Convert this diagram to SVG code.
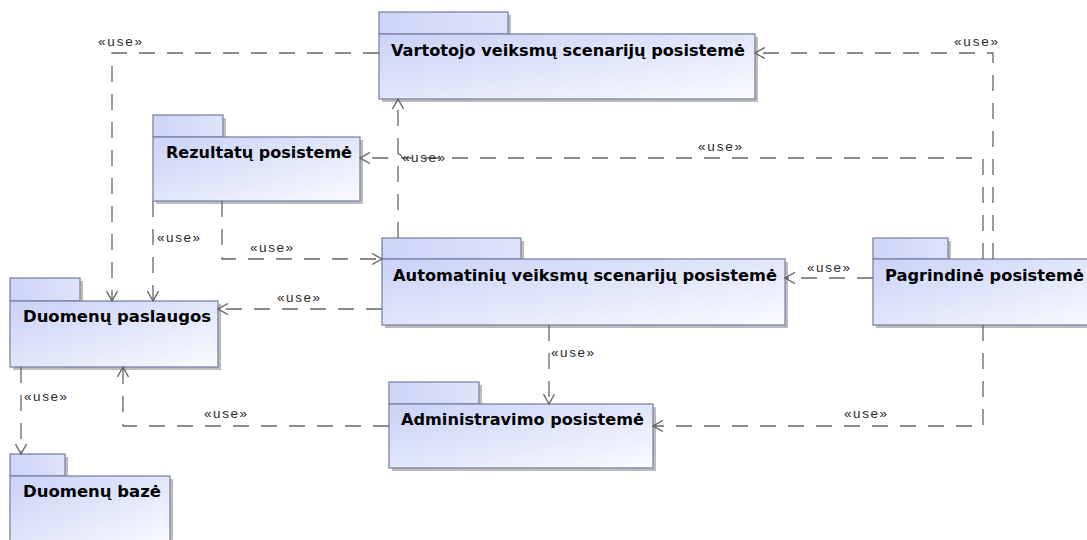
<svg xmlns="http://www.w3.org/2000/svg" width="1087" height="540" viewBox="0 0 1087 540">
  <defs>
    <linearGradient id="pkgFill" x1="0" y1="0" x2="1" y2="1">
      <stop offset="0" stop-color="#c9d2f7"/>
      <stop offset="0.55" stop-color="#e3e8fb"/>
      <stop offset="1" stop-color="#fbfcff"/>
    </linearGradient>
    <linearGradient id="tabFill" x1="0" y1="0" x2="1" y2="0">
      <stop offset="0" stop-color="#cdd5f7"/>
      <stop offset="1" stop-color="#dde3fa"/>
    </linearGradient>
    <marker id="open" viewBox="0 0 12 12" refX="11" refY="6" markerWidth="12" markerHeight="12" markerUnits="userSpaceOnUse" orient="auto">
      <path d="M1,0.5 L11,6 L1,11.5" fill="none" stroke="#606060" stroke-width="1.3" stroke-dasharray="none"/>
    </marker>
  </defs>
  <style>
    .shadow { fill: #bcbcbc; }
    .tab { fill: url(#tabFill); stroke: #7b84a6; stroke-width: 1.3; }
    .body { fill: url(#pkgFill); stroke: #7b84a6; stroke-width: 1.3; }
    .name { font-family: "DejaVu Sans", "Liberation Sans", sans-serif; font-weight: bold; font-size: 16.5px; fill: #000; }
    .dep { fill: none; stroke: #666; stroke-width: 1.3; stroke-dasharray: 16 12; marker-end: url(#open); }
    .lbl { font-family: "Liberation Sans", Arial, sans-serif; font-size: 13.5px; fill: #2a2a2a; }
  </style>

  <rect width="1087" height="540" fill="#fff"/>

  <!-- packages -->
  <g id="vartotojo">
    <rect class="shadow" x="382" y="15" width="129" height="22"/>
    <rect class="shadow" x="382" y="37" width="376" height="65"/>
    <rect class="tab" x="379" y="12" width="129" height="22"/>
    <rect class="body" x="379" y="34" width="376" height="65"/>
    <text class="name" x="391" y="56" textLength="354" lengthAdjust="spacingAndGlyphs">Vartotojo veiksmų scenarijų posistemė</text>
  </g>

  <g id="rezultatu">
    <rect class="shadow" x="156" y="118" width="70" height="22"/>
    <rect class="shadow" x="156" y="140" width="207" height="64"/>
    <rect class="tab" x="153" y="115" width="70" height="22"/>
    <rect class="body" x="153" y="137" width="207" height="64"/>
    <text class="name" x="166" y="158" textLength="186" lengthAdjust="spacingAndGlyphs">Rezultatų posistemė</text>
  </g>

  <g id="duomenu-paslaugos">
    <rect class="shadow" x="13" y="281" width="70" height="23"/>
    <rect class="shadow" x="13" y="304" width="208" height="66"/>
    <rect class="tab" x="10" y="278" width="70" height="23"/>
    <rect class="body" x="10" y="301" width="208" height="66"/>
    <text class="name" x="23" y="322" textLength="188" lengthAdjust="spacingAndGlyphs">Duomenų paslaugos</text>
  </g>

  <g id="automatiniu">
    <rect class="shadow" x="385" y="241" width="139" height="21"/>
    <rect class="shadow" x="385" y="262" width="403" height="66"/>
    <rect class="tab" x="382" y="238" width="139" height="21"/>
    <rect class="body" x="382" y="259" width="403" height="66"/>
    <text class="name" x="393" y="281" textLength="384" lengthAdjust="spacingAndGlyphs">Automatinių veiksmų scenarijų posistemė</text>
  </g>

  <g id="pagrindine">
    <rect class="shadow" x="876" y="241" width="75" height="21"/>
    <rect class="shadow" x="876" y="262" width="230" height="66"/>
    <rect class="tab" x="873" y="238" width="75" height="21"/>
    <rect class="body" x="873" y="259" width="230" height="66"/>
    <text class="name" x="885" y="281" textLength="199" lengthAdjust="spacingAndGlyphs">Pagrindinė posistemė</text>
  </g>

  <g id="administravimo">
    <rect class="shadow" x="392" y="385" width="90" height="22"/>
    <rect class="shadow" x="392" y="407" width="264" height="64"/>
    <rect class="tab" x="389" y="382" width="90" height="22"/>
    <rect class="body" x="389" y="404" width="264" height="64"/>
    <text class="name" x="401" y="425" textLength="243" lengthAdjust="spacingAndGlyphs">Administravimo posistemė</text>
  </g>

  <g id="duomenu-baze">
    <rect class="shadow" x="13" y="457" width="55" height="22"/>
    <rect class="shadow" x="13" y="479" width="160" height="70"/>
    <rect class="tab" x="10" y="454" width="55" height="22"/>
    <rect class="body" x="10" y="476" width="160" height="70"/>
    <text class="name" x="23" y="497" textLength="138" lengthAdjust="spacingAndGlyphs">Duomenų bazė</text>
  </g>

  <!-- «use» dependencies -->
  <g id="connectors">
    <path class="dep" d="M379,53 H112 V301"/>
    <text class="lbl" x="98" y="46" textLength="44">«use»</text>

    <path class="dep" d="M993,259 V53 H755"/>
    <text class="lbl" x="954" y="46" textLength="44">«use»</text>

    <path class="dep" d="M983,259 V158 H402 A4,4 0 0 0 394,158 H360"/>
    <text class="lbl" x="698" y="151" textLength="44">«use»</text>

    <path class="dep" d="M398,238 V99"/>
    <text class="lbl" x="402" y="162" textLength="43">«use»</text>

    <path class="dep" d="M153,201 V301"/>
    <text class="lbl" x="157" y="242" textLength="43">«use»</text>

    <path class="dep" d="M222,201 V259 H382"/>
    <text class="lbl" x="250" y="252" textLength="43">«use»</text>

    <path class="dep" d="M382,309 H218"/>
    <text class="lbl" x="277" y="302" textLength="43">«use»</text>

    <path class="dep" d="M873,278 H785"/>
    <text class="lbl" x="807" y="272" textLength="43">«use»</text>

    <path class="dep" d="M549,325 V404"/>
    <text class="lbl" x="551" y="357" textLength="43">«use»</text>

    <path class="dep" d="M983,325 V426 H653"/>
    <text class="lbl" x="844" y="418" textLength="43">«use»</text>

    <path class="dep" d="M389,426 H123 V367"/>
    <text class="lbl" x="204" y="418" textLength="43">«use»</text>

    <path class="dep" d="M21,367 V454"/>
    <text class="lbl" x="24" y="401" textLength="43">«use»</text>
  </g>
</svg>
